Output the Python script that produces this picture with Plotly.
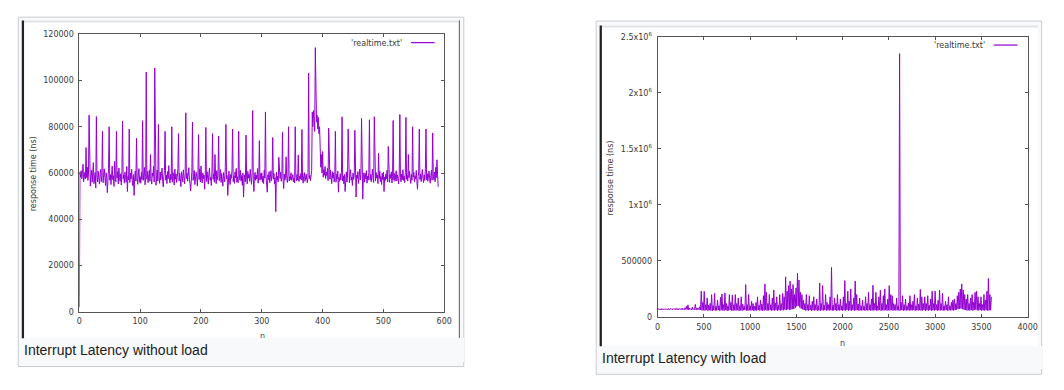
import plotly.graph_objects as go

W, H = 1064, 390

# ---------------- data ----------------
# Left chart: response time without load, microseconds (converted to ns below)
no_load_us = [
    2.0, 60.5, 58.2, 61.0, 57.5, 59.8, 63.8, 56.2, 58.9, 60.3,
    57.4, 71.0, 58.0, 62.5, 56.8, 59.5, 85.0, 57.2, 54.3, 58.6,
    61.2, 56.0, 59.1, 64.5, 55.4, 57.9, 60.2, 53.5, 84.4, 58.3,
    56.1, 60.8, 57.0, 55.2, 59.4, 61.5, 56.3, 58.7, 78.0, 55.8,
    59.0, 61.8, 57.3, 54.6, 60.1, 58.2, 51.5, 57.6, 62.0, 80.0,
    56.9, 59.3, 55.0, 61.4, 63.0, 57.1, 58.8, 54.2, 65.0, 58.4,
    56.2, 78.0, 57.8, 60.6, 55.3, 62.2, 58.0, 56.4, 59.7, 54.8,
    61.0, 82.5, 57.5, 59.2, 55.6, 60.4, 58.1, 56.0, 62.8, 52.0,
    58.5, 57.0, 79.0, 55.9, 60.0, 57.4, 61.6, 56.7, 54.5, 59.3,
    50.3, 58.0, 60.9, 56.5, 75.0, 57.9, 55.1, 59.6, 61.9, 56.0,
    58.4, 55.6, 60.3, 57.2, 82.6, 56.8, 59.0, 62.4, 54.9, 58.1,
    103.6, 57.3, 60.7, 55.8, 58.9, 61.2, 56.4, 68.0, 57.7, 55.2,
    60.0, 58.6, 62.9, 56.1, 105.4, 59.4, 54.7, 57.8, 61.3, 56.6,
    81.0, 58.2, 55.5, 60.4, 57.0, 59.8, 62.1, 56.3, 54.0, 58.7,
    61.0, 78.0, 56.9, 59.1, 55.4, 60.6, 57.5, 63.2, 58.0, 55.7,
    59.4, 57.1, 80.0, 56.0, 60.2, 58.5, 54.8, 61.7, 57.3, 59.6,
    55.9, 58.3, 62.0, 77.0, 56.6, 59.9, 57.4, 54.1, 60.5, 58.0,
    56.2, 61.4, 58.8, 55.3, 59.7, 86.0, 57.6, 60.1, 56.5, 58.9,
    62.3, 57.0, 55.6, 52.2, 59.2, 60.7, 82.0, 56.8, 58.4, 61.1,
    55.0, 57.9, 60.3, 58.6, 54.4, 59.5, 76.6, 57.2, 61.8, 56.1,
    63.0, 58.3, 55.7, 60.0, 57.6, 59.1, 53.0, 58.7, 79.7, 56.4,
    60.6, 57.8, 55.2, 59.9, 62.2, 56.9, 58.1, 54.6, 60.4, 77.0,
    57.3, 59.6, 56.0, 68.0, 58.5, 55.4, 61.0, 57.1, 59.3, 76.0,
    56.7, 58.0, 61.5, 55.9, 59.8, 57.2, 54.3, 60.2, 58.6, 56.2,
    62.4, 81.0, 57.5, 59.0, 50.3, 58.1, 60.8, 56.6, 55.0, 59.4,
    57.7, 61.3, 79.0, 56.3, 58.8, 55.5, 60.5, 57.9, 62.0, 56.0,
    58.4, 55.8, 78.0, 59.6, 57.0, 61.1, 56.5, 58.9, 54.7, 60.0,
    49.6, 57.4, 59.2, 56.1, 76.4, 58.2, 55.3, 60.7, 57.8, 59.5,
    56.4, 61.6, 58.0, 55.1, 59.9, 87.0, 57.3, 52.0, 58.6, 60.3,
    56.8, 59.0, 57.5, 61.9, 55.6, 58.3, 74.0, 56.9, 59.7, 57.2,
    60.1, 56.0, 58.7, 55.4, 61.2, 57.8, 86.4, 58.5, 56.3, 51.7,
    59.3, 57.1, 60.6, 55.8, 58.2, 61.0, 56.7, 58.9, 75.3, 57.4,
    59.8, 55.2, 58.0, 43.3, 60.4, 57.0, 58.6, 56.1, 66.8, 59.2,
    57.6, 60.3, 56.4, 58.1, 77.6, 57.3, 53.3, 59.5, 56.9, 58.3,
    67.0, 57.7, 55.9, 59.0, 80.0, 56.5, 58.4, 57.2, 60.1, 56.8,
    58.0, 59.3, 56.2, 57.9, 55.7, 80.0, 58.8, 56.6, 59.4, 57.0,
    67.8, 56.3, 58.5, 57.4, 59.7, 56.9, 78.8, 57.8, 55.6, 58.9,
    60.2, 56.4, 58.1, 59.6, 57.1, 55.8, 58.7, 103.2, 57.5, 59.0,
    56.7, 58.4, 60.9, 86.4, 80.0, 87.0, 84.0, 78.0, 114.2, 86.0,
    82.0, 85.0, 79.0, 84.0, 77.0, 80.0, 66.0, 62.5, 68.0, 60.0,
    69.3, 58.2, 61.5, 59.0, 62.8, 57.6, 60.4, 58.9, 62.0, 56.7,
    79.4, 59.5, 57.3, 61.2, 58.0, 55.4, 60.6, 57.8, 59.9, 56.2,
    58.6, 78.0, 56.0, 59.3, 57.5, 60.8, 51.7, 58.1, 56.4, 59.7,
    57.0, 60.2, 84.3, 56.6, 58.8, 55.3, 59.4, 52.0, 57.9, 60.5,
    56.1, 58.7, 79.0, 57.4, 55.8, 59.2, 61.4, 56.9, 58.3, 54.6,
    60.0, 57.2, 58.9, 78.5, 56.3, 49.6, 59.1, 57.7, 60.6, 55.5,
    58.4, 61.7, 57.0, 59.5, 83.6, 56.8, 48.7, 58.2, 60.1, 56.0,
    59.8, 57.5, 61.0, 55.6, 58.6, 56.9, 60.3, 83.0, 57.1, 59.4,
    56.2, 58.0, 61.6, 57.3, 55.9, 84.3, 58.7, 56.5, 60.2, 57.8,
    59.1, 55.4, 68.5, 57.6, 60.7, 56.3, 58.5, 55.0, 59.9, 57.2,
    60.4, 52.0, 58.3, 56.7, 59.6, 57.4, 61.2, 56.1, 71.5, 58.8,
    56.0, 59.3, 57.7, 60.5, 55.7, 58.4, 82.7, 57.0, 59.8, 56.4,
    58.1, 61.0, 56.6, 59.2, 57.5, 55.3, 60.0, 85.3, 57.9, 56.2,
    59.5, 57.1, 61.4, 56.8, 58.6, 55.9, 60.2, 84.0, 57.3, 59.0,
    56.5, 68.0, 58.0, 60.7, 57.6, 55.5, 59.4, 56.9, 80.0, 58.2,
    60.3, 56.1, 58.8, 57.4, 61.1, 56.6, 53.0, 58.5, 60.0, 79.0,
    57.2, 59.6, 56.3, 58.9, 61.5, 57.7, 55.8, 59.2, 56.8, 62.0,
    79.0, 57.0, 59.7, 56.4, 58.3, 60.8, 57.5, 55.6, 59.0, 61.2,
    56.9, 77.3, 58.6, 57.1, 60.4, 56.2, 62.5, 58.0, 65.7, 57.8,
    54.0,
]

# Right chart: response time with load, one reading every 8 samples, in thousands of ns
LOAD_STEP = 8
with_load_kns = [
    68, 74, 64, 72, 66, 75, 63, 73, 67, 72,
    65, 74, 68, 71, 64, 76, 66, 73, 69, 72,
    64, 75, 67, 72, 65, 78, 66, 74, 63, 76,
    68, 73, 65, 79, 66, 74, 64, 82, 67, 95,
    66, 108, 64, 78, 67, 75, 63, 88, 66, 74,
    65, 112, 63, 80, 66, 78, 64, 92, 62, 231,
    58, 130, 60, 228, 57, 110, 62, 170, 56, 105,
    60, 120, 58, 200, 55, 100, 61, 210, 57, 95,
    59, 150, 62, 100, 56, 175, 60, 205, 58, 110,
    57, 215, 61, 120, 55, 100, 59, 200, 62, 130,
    58, 195, 56, 110, 60, 200, 57, 120, 61, 170,
    55, 100, 59, 180, 57, 115, 60, 95, 62, 289,
    58, 110, 56, 200, 60, 100, 57, 140, 61, 120,
    55, 95, 59, 130, 57, 180, 62, 105, 58, 150,
    60, 115, 56, 190, 58, 295, 61, 220, 57, 120,
    59, 200, 62, 110, 56, 170, 60, 240, 58, 125,
    61, 180, 57, 105, 60, 200, 58, 120, 63, 210,
    60, 180, 65, 358, 62, 230, 68, 280, 64, 320,
    66, 250, 70, 290, 72, 200, 80, 260, 95, 390,
    100, 330, 85, 220, 75, 200, 68, 150, 62, 120,
    58, 200, 60, 110, 57, 190, 62, 105, 56, 140,
    60, 180, 58, 110, 61, 160, 57, 100, 59, 303,
    56, 120, 60, 280, 58, 105, 62, 200, 57, 130,
    60, 110, 58, 180, 61, 442, 57, 105, 59, 170,
    62, 120, 56, 200, 60, 110, 58, 160, 61, 100,
    57, 180, 60, 324, 58, 120, 62, 230, 56, 140,
    60, 250, 58, 110, 61, 170, 57, 320, 59, 200,
    62, 115, 56, 170, 60, 100, 58, 150, 61, 95,
    57, 180, 60, 120, 58, 220, 62, 110, 56, 160,
    60, 283, 58, 120, 61, 220, 57, 100, 59, 180,
    62, 240, 56, 120, 60, 190, 58, 250, 61, 110,
    57, 160, 60, 280, 58, 200, 62, 190, 56, 120,
    60, 110, 58, 170, 61, 100, 57, 2350, 59, 130,
    62, 190, 56, 110, 60, 160, 58, 100, 61, 125,
    57, 190, 60, 110, 58, 140, 62, 200, 56, 100,
    60, 170, 58, 115, 61, 246, 57, 180, 59, 120,
    62, 180, 56, 120, 60, 190, 58, 105, 61, 160,
    57, 230, 60, 120, 58, 230, 62, 110, 56, 150,
    60, 240, 58, 120, 61, 210, 57, 100, 59, 140,
    62, 110, 56, 180, 60, 100, 58, 130, 61, 150,
    57, 160, 62, 120, 66, 190, 70, 220, 72, 250,
    75, 295, 70, 240, 65, 200, 62, 160, 58, 200,
    60, 120, 58, 170, 61, 200, 57, 130, 63, 220,
    65, 230, 60, 180, 58, 120, 62, 180, 57, 110,
    60, 200, 58, 150, 61, 230, 57, 344, 59, 200,
    60, 180,
]

left_xticks = [0, 100, 200, 300, 400, 500, 600]
left_yticks = [0, 20000, 40000, 60000, 80000, 100000, 120000]
right_xticks = [0, 500, 1000, 1500, 2000, 2500, 3000, 3500, 4000]
right_yticks = [0, 500000, 1000000, 1500000, 2000000, 2500000]
right_yticktext = ["0", "500000", "1x10<sup>6</sup>", "1.5x10<sup>6</sup>",
                   "2x10<sup>6</sup>", "2.5x10<sup>6</sup>"]

legend_name = "'realtime.txt'"
caption_left = "Interrupt Latency without load"
caption_right = "Interrupt Latency with load"
x_title = "n"
y_title = "response time (ns)"

# ---------------- helpers ----------------
def px(x):
    return x / W

def py(y):
    return 1 - y / H

LINE = "#9400d3"
TICKFONT = dict(family="DejaVu Sans", size=8, color="#3a3a3a")
CAPFONT = dict(family="Liberation Sans, Arial, sans-serif", size=14, color="#202122")

n_left = list(range(len(no_load_us)))
y_left = [v * 1000 for v in no_load_us]
n_right = [i * LOAD_STEP for i in range(len(with_load_kns))]
y_right = [v * 1000 for v in with_load_kns]

fig = go.Figure()
fig.add_trace(go.Scatter(x=n_left, y=y_left, mode="lines", name=legend_name,
                         line=dict(color=LINE, width=1), xaxis="x", yaxis="y",
                         showlegend=False, hoverinfo="skip"))
fig.add_trace(go.Scatter(x=n_right, y=y_right, mode="lines", name=legend_name,
                         line=dict(color=LINE, width=1), xaxis="x2", yaxis="y2",
                         showlegend=False, hoverinfo="skip"))

axis_common = dict(showgrid=False, zeroline=False, ticks="inside", ticklen=3,
                   tickcolor="#555", tickwidth=1, showline=True, linecolor="#555",
                   linewidth=1, mirror="ticks", tickfont=TICKFONT, fixedrange=True)

fig.update_layout(
    width=W, height=H, autosize=False,
    margin=dict(l=0, r=0, t=0, b=0, pad=0),
    paper_bgcolor="white", plot_bgcolor="rgba(0,0,0,0)",
    xaxis=dict(domain=[px(77.3), px(446.7)], range=[0, 600], tickvals=left_xticks,
               anchor="y", ticklabelstandoff=2, **axis_common),
    yaxis=dict(domain=[py(314.7), py(29)], range=[0, 120000], tickvals=left_yticks,
               tickformat="d", anchor="x", ticklabelstandoff=3, **axis_common),
    xaxis2=dict(domain=[px(662.7), px(1037.3)], range=[0, 4000], tickvals=right_xticks,
                anchor="y2", ticklabelstandoff=2, **axis_common),
    yaxis2=dict(domain=[py(320), py(31.7)], range=[0, 2500000], tickvals=right_yticks,
                ticktext=right_yticktext, anchor="x2", ticklabelstandoff=3, **axis_common),
)

shapes = []
def rect(x0, y0, x1, y1, fill, line=None, lw=0):
    shapes.append(dict(type="rect", xref="paper", yref="paper",
                       x0=px(x0), x1=px(x1), y0=py(y1), y1=py(y0),
                       fillcolor=fill, layer="below",
                       line=dict(color=line or fill, width=lw)))

# left frame and image
rect(15.5, 11.5, 466.5, 371, "#f8f9fa", "#c8ccd1", 1)
rect(20, 15, 462, 342, "white")
rect(20, 15, 462, 17, "#e2e3e5")
rect(19, 15, 21.3, 342, "#222222")
rect(461.5, 15, 462.5, 342, "#555555")
# right frame and image
rect(600.5, 15.5, 1051.5, 379, "#f8f9fa", "#c8ccd1", 1)
rect(605, 20, 1048, 350, "white")
rect(605, 20, 1048, 22, "#e2e3e5")
rect(604, 20, 606.3, 350, "#222222")

# legend samples
for (x0, x1, yy) in [(413, 437, 37.7), (1003, 1027, 40.2)]:
    shapes.append(dict(type="line", xref="paper", yref="paper",
                       x0=px(x0), x1=px(x1), y0=py(yy), y1=py(yy),
                       line=dict(color=LINE, width=1.2), layer="above"))
fig.update_layout(shapes=shapes)

ann = []
# legend texts
ann.append(dict(text=legend_name, x=px(406), y=py(39), xref="paper", yref="paper",
                xanchor="right", yanchor="middle", showarrow=False, font=TICKFONT))
ann.append(dict(text=legend_name, x=px(996), y=py(40.7), xref="paper", yref="paper",
                xanchor="right", yanchor="middle", showarrow=False, font=TICKFONT))
# y titles
ann.append(dict(text=y_title, x=px(31), y=py(172.5), xref="paper", yref="paper",
                textangle=-90, xanchor="center", yanchor="middle", showarrow=False,
                font=TICKFONT))
ann.append(dict(text=y_title, x=px(615.5), y=py(176.5), xref="paper", yref="paper",
                textangle=-90, xanchor="center", yanchor="middle", showarrow=False,
                font=TICKFONT))
# x titles (partly hidden by the caption bands below)
ann.append(dict(text=x_title, x=px(262.3), y=py(340.5), xref="paper", yref="paper",
                xanchor="center", yanchor="middle", showarrow=False, font=TICKFONT))
ann.append(dict(text=x_title, x=px(849.5), y=py(347.5), xref="paper", yref="paper",
                xanchor="center", yanchor="middle", showarrow=False, font=TICKFONT))
# captions (with background band that crops the x titles)
ann.append(dict(text=caption_left, x=px(21.7), y=py(354), xref="paper", yref="paper",
                xanchor="left", yanchor="middle", showarrow=False, font=CAPFONT,
                align="left", width=440, height=24, bgcolor="#f8f9fa",
                borderpad=0, borderwidth=0))
ann.append(dict(text=caption_right, x=px(606.7), y=py(361.7), xref="paper", yref="paper",
                xanchor="left", yanchor="middle", showarrow=False, font=CAPFONT,
                align="left", width=440, height=23, bgcolor="#f8f9fa",
                borderpad=0, borderwidth=0))
fig.update_layout(annotations=ann)

fig.write_html("out.html",
               config={"displayModeBar": False},
               post_script="document.body.style.margin='0';"
                           "document.body.style.overflow='hidden';")
